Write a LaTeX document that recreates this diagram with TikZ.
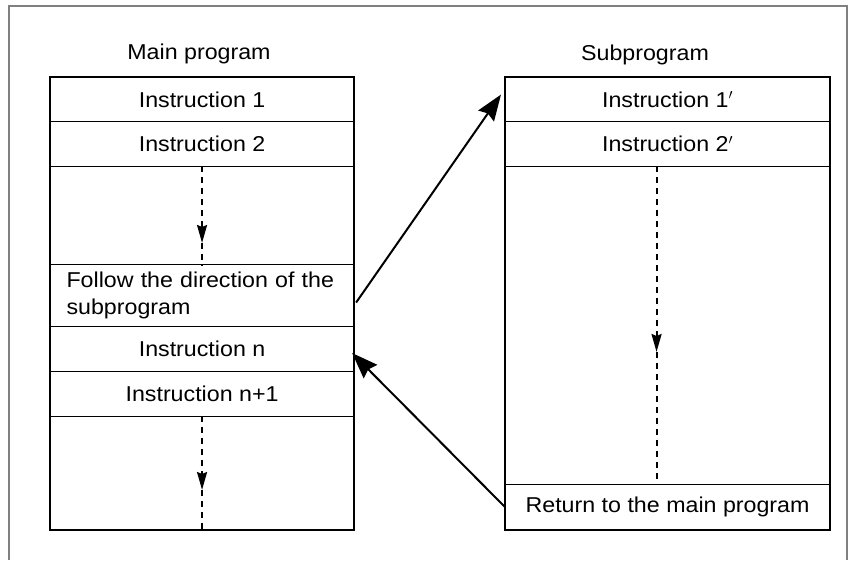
\documentclass[tikz,border=0pt]{standalone}
\usepackage{fontspec}
\setmainfont[FakeStretch=1.08]{Liberation Sans}
\usetikzlibrary{arrows.meta,calc}
\definecolor{framegray}{RGB}{128,128,128}
\begin{document}
\begin{tikzpicture}[x=1pt,y=-1pt,
  txt/.style={font=\fontsize{21.5}{27}\selectfont},
  mainrow/.style={draw, line width=1.1pt, inner sep=0pt, anchor=north west, minimum width=303pt, txt},
  subrow/.style={draw, line width=1.1pt, inner sep=0pt, anchor=north west, minimum width=324pt, txt},
  outerbox/.style={draw, line width=2.4pt},
  flowarrow/.style={line width=2pt, -{Stealth[length=26pt,width=19pt,inset=3pt]}},
  dasharrow/.style={line width=2pt, dash pattern=on 6pt off 5pt, -{Stealth[length=18pt,width=10pt,inset=2pt]}},
  dashline/.style={line width=2pt, dash pattern=on 6pt off 5pt}
]
\useasboundingbox (0,0) rectangle (851,560);
\draw[framegray, line width=2pt] (9,560) -- (9,6) -- (847,6) -- (847,560);

% titles
\node[txt, anchor=base] (mtitle) at (199,59) {Main program};
\node[txt, anchor=base] (stitle) at (645,60) {Subprogram};

% main program rows
\node[mainrow, minimum height=44pt] (m1) at (50,77) {Instruction 1};
\node[mainrow, minimum height=45pt] (m2) at (50,121) {Instruction 2};
\node[mainrow, minimum height=98pt] (m3) at (50,166) {};
\node[mainrow, minimum height=62pt, text width=271pt, align=left] (m4) at (50,264) {Follow the direction of the\\subprogram};
\node[mainrow, minimum height=45pt] (m5) at (50,326) {Instruction n};
\node[mainrow, minimum height=45pt] (m6) at (50,371) {Instruction n+1};
\node[mainrow, minimum height=113pt] (m7) at (50,416) {};
\draw[outerbox] (m1.north west) rectangle (m7.south east);

% subprogram rows
\node[subrow, minimum height=44pt] (s1) at (505,77) {Instruction 1$'$};
\node[subrow, minimum height=45pt] (s2) at (505,121) {Instruction 2$'$};
\node[subrow, minimum height=318pt] (s3) at (505,166) {};
\node[subrow, minimum height=45pt] (s4) at (505,484) {Return to the main program};
\draw[outerbox] (s1.north west) rectangle (s4.south east);

% dashed flow arrows
\coordinate (m3tip) at ($(m3.north)+(0,77)$);
\draw[dasharrow] (m3.north) -- (m3tip);
\draw[dashline] (m3tip) -- (m3.south);
\coordinate (m7tip) at ($(m7.north)+(0,74)$);
\draw[dasharrow] (m7.north) -- (m7tip);
\draw[dashline] (m7tip) -- (m7.south);
\coordinate (s3top) at ($(s3.north)+(-11,0)$);
\coordinate (s3tip) at ($(s3.north)+(-11,186)$);
\coordinate (s3bot) at ($(s3.south)+(-11,0)$);
\draw[dasharrow] (s3top) -- (s3tip);
\draw[dashline] (s3tip) -- (s3bot);

% call and return arrows
\draw[flowarrow] ($(m4.east)+(2,7)$) -- ($(s1.west)+(-4,-5)$);
\draw[flowarrow] (s4.west) -- ($(m5.east)+(-2,4)$);
\end{tikzpicture}
\end{document}
